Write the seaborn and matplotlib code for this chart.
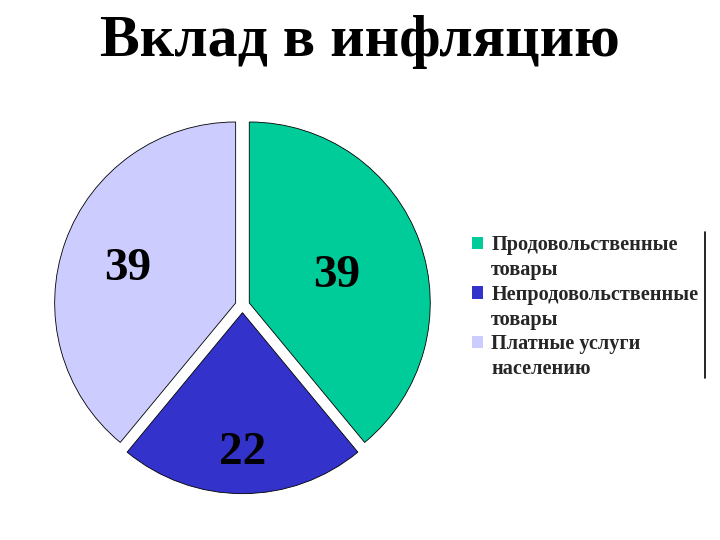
import numpy as np
import matplotlib
matplotlib.use("Agg")
import matplotlib.pyplot as plt
from matplotlib.lines import Line2D
from matplotlib.patches import Patch
import seaborn as sns

# ---- data ----
categories = ["Продовольственные\nтовары", "Непродовольственные\nтовары", "Платные услуги\nнаселению"]
values = [39, 22, 39]
value_labels = ["39", "22", "39"]
title = "Вклад в инфляцию"

# ---- style ----
sns.set_theme(style="white")
plt.rcParams['font.family'] = ['Liberation Serif', 'DejaVu Serif']
colors = sns.color_palette(["#00CC99", "#3333CC", "#CCCCFF"])
label_dist = [0.516, 0.746, 0.635]

fig = plt.figure(figsize=(7.2, 5.4), dpi=100)
fig.patch.set_facecolor("white")
ax = fig.add_axes([0.0351, 0.0322, 0.6033, 0.8044])

wedges, _ = ax.pie(values, colors=colors, startangle=90, counterclock=False,
                   explode=[0.04] * len(values),
                   wedgeprops=dict(edgecolor="black", linewidth=0.6))
for w, lab, d in zip(wedges, value_labels, label_dist):
    th = np.deg2rad((w.theta1 + w.theta2) / 2)
    cx, cy = w.center
    ax.text(cx + d * w.r * np.cos(th), cy + d * w.r * np.sin(th), lab,
            ha="center", va="center_baseline", fontsize=34, fontweight="bold",
            color="black")
ax.set_xlim(-1.2, 1.2)
ax.set_ylim(-1.2, 1.2)
ax.set_aspect("equal")
ax.axis("off")

fig.text(0.5, (540 - 56) / 540, title, ha="center", va="baseline",
         fontsize=43, fontweight="bold", color="black")

# legend: first line of each label carries the colour square
handles, labels = [], []
for w, cat in zip(wedges, categories):
    lines = cat.split("\n")
    for i, ln in enumerate(lines):
        if i == 0:
            handles.append(Patch(facecolor=w.get_facecolor(), edgecolor="none"))
        else:
            handles.append(Patch(facecolor="none", edgecolor="none"))
        labels.append(ln)

leg = fig.legend(handles, labels, loc="upper left",
                 bbox_to_anchor=(472 / 720, (540 - 235) / 540),
                 frameon=False,
                 prop=dict(family="Liberation Serif", weight="bold", size=14.6),
                 handlelength=0.55, handleheight=0.55, handletextpad=0.4,
                 labelspacing=0.24, borderaxespad=0, borderpad=0)

fig.add_artist(Line2D([705 / 720, 705 / 720], [(540 - 232) / 540, (540 - 378) / 540],
                      color="black", linewidth=1.2, transform=fig.transFigure))

fig.savefig("out.png", dpi=100, facecolor="white")
